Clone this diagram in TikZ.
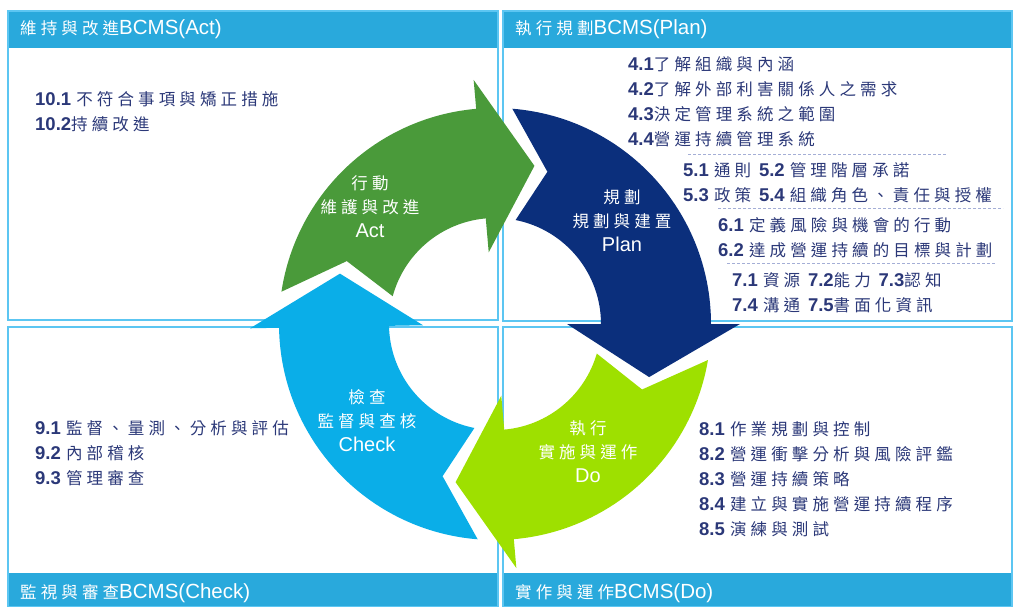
\documentclass[tikz,border=0pt]{standalone}
\usepackage{fontspec}
\setmainfont{Liberation Sans}
\newfontfamily\cjk[LetterSpace=25]{Noto Sans CJK TC}

\definecolor{headblue}{HTML}{29A9DC}
\definecolor{edgeblue}{HTML}{5CC6F2}
\definecolor{textnavy}{HTML}{2B3878}
\definecolor{actgreen}{HTML}{4A9A3A}
\definecolor{plannavy}{HTML}{0B2F7C}
\definecolor{dolime}{HTML}{9EE000}
\definecolor{checksky}{HTML}{0AAEE8}
\definecolor{sepgrey}{HTML}{A4AED6}

\newcommand\zh[1]{{\cjk\fontsize{16.5}{25}\selectfont #1}}
\newcommand\clause[2]{{\bfseries #1}\zh{#2}}
% one quarter of the ring: colour, base of the previous head, base of this head
\newcommand\pdcaarrow[3]{%
  \fill[#1] ({#2-9.6}:216) arc[start angle={#2-9.6}, end angle=#3, radius=216]
    -- (#3:245) -- ({#3-19}:163) -- (#3:72) -- (#3:106)
    arc[start angle=#3, end angle={#2-16.2}, radius=106]
    -- ({#2-24}:161) -- cycle;}

\begin{document}
\begin{tikzpicture}[x=1pt,y=-1pt,
    panel/.style={draw=edgeblue,line width=1.3pt},
    headtext/.style={anchor=west,inner sep=0pt,text=white,font=\fontsize{20.5}{25}\selectfont},
    clauses/.style={anchor=north west,inner sep=0pt,align=left,text=textnavy,font=\fontsize{18.5}{25}\selectfont},
    ringtext/.style={align=center,inner sep=0pt,text=white,font=\fontsize{20}{24}\selectfont},
    sepline/.style={sepgrey,densely dashed,line width=1pt}]
  \useasboundingbox (0,0) rectangle (1013,606);
  % four panels
  \fill[headblue] (8,11) rectangle (498,48);
  \draw[panel] (8,11) rectangle (498,320);
  \fill[headblue] (503,11) rectangle (1012,48);
  \draw[panel] (503,11) rectangle (1012,321);
  \fill[headblue] (8,573) rectangle (498,607);
  \draw[panel] (8,327) rectangle (498,607);
  \fill[headblue] (503,573) rectangle (1012,607);
  \draw[panel] (503,327) rectangle (1012,607);
  %
  \node[headtext] (acthead) at (20,29) {\zh{維持與改進}BCMS(Act)};
  \node[headtext] (planhead) at (515,29) {\zh{執行規劃}BCMS(Plan)};
  \node[headtext] (checkhead) at (20,593) {\zh{監視與審查}BCMS(Check)};
  \node[headtext] (dohead) at (515,593) {\zh{實作與運作}BCMS(Do)};
  % the ring
  \begin{scope}[shift={(495,324)},y=1pt]
    \pdcaarrow{actgreen}{181}{95}
    \pdcaarrow{plannavy}{95}{0}
    \pdcaarrow{dolime}{0}{-85}
    \pdcaarrow{checksky}{-85}{-179}
  \end{scope}
  \node[ringtext] (actlabel) at (370,207) {\zh{行動}\\ \zh{維護與改進}\\ Act};
  \node[ringtext] (planlabel) at (622,221) {\zh{規劃}\\ \zh{規劃與建置}\\ Plan};
  \node[ringtext] (dolabel) at (588,452) {\zh{執行}\\ \zh{實施與運作}\\ Do};
  \node[ringtext] (checklabel) at (367,421) {\zh{檢查}\\ \zh{監督與查核}\\ Check};
  % clause lists
  \node[clauses] (actlist) at (35,91) {\clause{10.1 }{不符合事項與矯正措施}\\
    \clause{10.2}{持續改進}};
  \node[clauses] (sec4) at (628,56) {\clause{4.1}{了解組織與內涵}\\
    \clause{4.2}{了解外部利害關係人之需求}\\
    \clause{4.3}{決定管理系統之範圍}\\
    \clause{4.4}{營運持續管理系統}};
  \draw[sepline] (688,154) -- (947,154);
  \node[clauses] (sec5) at (683,162) {\clause{5.1 }{通則 }\clause{5.2 }{管理階層承諾}\\
    \clause{5.3 }{政策 }\clause{5.4 }{組織角色、責任與授權}};
  \draw[sepline] (718,208) -- (1003,208);
  \node[clauses] (sec6) at (718,217) {\clause{6.1 }{定義風險與機會的行動}\\
    \clause{6.2 }{達成營運持續的目標與計劃}};
  \draw[sepline] (727,263) -- (995,263);
  \node[clauses] (sec7) at (732,272) {\clause{7.1 }{資源 }\clause{7.2}{能力 }\clause{7.3}{認知}\\
    \clause{7.4 }{溝通 }\clause{7.5}{書面化資訊}};
  \node[clauses] (checklist) at (35,420) {\clause{9.1 }{監督、量測、分析與評估}\\
    \clause{9.2 }{內部稽核}\\
    \clause{9.3 }{管理審查}};
  \node[clauses] (dolist) at (699,421) {\clause{8.1 }{作業規劃與控制}\\
    \clause{8.2 }{營運衝擊分析與風險評鑑}\\
    \clause{8.3 }{營運持續策略}\\
    \clause{8.4 }{建立與實施營運持續程序}\\
    \clause{8.5 }{演練與測試}};
\end{tikzpicture}
\end{document}
